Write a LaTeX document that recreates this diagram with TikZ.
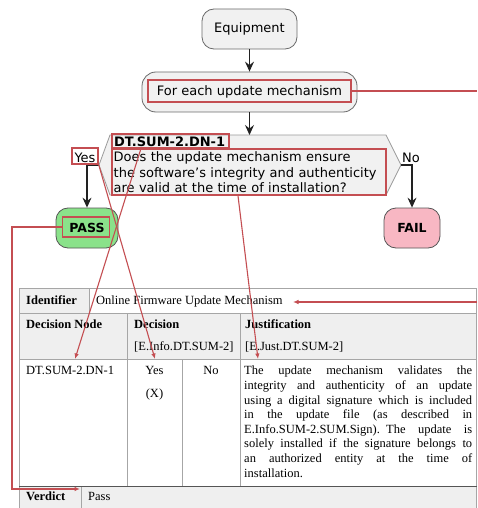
\documentclass[tikz,border=0pt]{standalone}
\usepackage{fontspec}
\setmainfont{Liberation Serif}
\newfontfamily\dvsans{DejaVu Sans}
\usetikzlibrary{arrows.meta,calc}
\definecolor{boxfill}{HTML}{F1F1F1}
\definecolor{actline}{HTML}{6A6A6A}
\definecolor{hexline}{HTML}{9A9A9A}
\definecolor{flowc}{HTML}{222222}
\definecolor{annot}{RGB}{196,78,82}
\definecolor{passfill}{HTML}{8AE28A}
\definecolor{failfill}{HTML}{F8B7C3}
\definecolor{cellgrey}{HTML}{EFEFEF}
\definecolor{rulec}{HTML}{A6A6A6}
\definecolor{darkrule}{HTML}{555555}
\tikzset{
  activity/.style={draw=actline, fill=boxfill, line width=0.8pt, inner sep=0pt,
    font=\dvsans\fontsize{13}{15.5}\selectfont},
  hexa/.style={draw=hexline, fill=boxfill, line width=0.8pt},
  flow/.style={draw=flowc, line width=1.1pt, -{Stealth[length=10pt,width=9pt,inset=3.5pt]}},
  redbox/.style={draw=annot, line width=1.4pt, inner sep=0pt},
  redline/.style={draw=annot, line width=1.1pt},
  redarrow/.style={redline, -{Latex[length=5.5pt,width=4.5pt]}},
  dlabel/.style={font=\dvsans\fontsize{13}{15.5}\selectfont, inner sep=0pt},
  tcell/.style={font=\fontsize{12.5}{14.6}\selectfont, inner sep=0pt},
  thead/.style={inner sep=0pt, font=\fontsize{12.5}{14.6}\selectfont\bfseries},
  rulel/.style={draw=rulec, line width=0.8pt},
}
\newcommand{\jline}[1]{\noindent\hbox to 228pt{\spaceskip=0.25em plus 10em\relax #1}\par}
\begin{document}
\begin{tikzpicture}[x=1pt,y=-1pt]
\useasboundingbox[fill=white] (0,0) rectangle (477,508);

% ---------- table ----------
\fill[cellgrey] (19,288) rectangle (89,313);
\fill[cellgrey] (19,313) rectangle (477,359);
\fill[cellgrey] (19,486) rectangle (477,508);
\draw[rulel] (19,288) -- (476.5,288);
\draw[rulel] (19,313) -- (476.5,313);
\draw[rulel] (19,359) -- (476.5,359);
\draw[rulel] (19,288) -- (19,508);
\draw[rulel] (476.5,288) -- (476.5,508);
\draw[rulel] (89,288) -- (89,313);
\draw[rulel] (127,313) -- (127,486);
\draw[rulel] (182,359) -- (182,486);
\draw[rulel] (240,313) -- (240,486);
\draw[rulel] (81,486) -- (81,508);
\draw[draw=darkrule, line width=1pt] (19,486) -- (476.5,486);

\node[thead, anchor=base west] (idlab) at (26,304) {Identifier};
\node[tcell, anchor=base west] (idval) at (96,304) {Online Firmware Update Mechanism};
\node[thead, anchor=base west] (hdn) at (26,328) {Decision Node};
\node[thead, anchor=base west] (hdec) at (134,328) {Decision};
\node[tcell, anchor=base west] (hdecref) at (134,350.5) {[E.Info.DT.SUM-2]};
\node[thead, anchor=base west] (hjus) at (245,328) {Justification};
\node[tcell, anchor=base west] (hjusref) at (245,350.5) {[E.Just.DT.SUM-2]};
\node[tcell, anchor=base west] (cdn) at (26,374.5) {DT.SUM-2.DN-1};
\node[tcell, anchor=base] (cyes) at (154.5,374.5) {Yes};
\node[tcell, anchor=base] (cx) at (154.5,397) {(X)};
\node[tcell, anchor=base] (cno) at (211,374.5) {No};
\node[tcell, anchor=north west, text width=228pt] (cjus) at (244,366)
 {\jline{The update mechanism validates the}
  \jline{integrity and authenticity of an update}
  \jline{using a digital signature which is included}
  \jline{in the update file (as described in}
  \jline{E.Info.SUM-2.SUM.Sign). The update is}
  \jline{solely installed if the signature belongs to}
  \jline{an authorized entity at the time of}
  \noindent installation.};
\node[thead, anchor=base west] (verd) at (26,500.5) {Verdict};
\node[tcell, anchor=base west] (verdv) at (88,500.5) {Pass};

% ---------- activity diagram ----------
\node[activity, rounded corners=12pt, minimum width=95pt, minimum height=40pt] (equip) at (249.5,29) {Equipment};
\node[activity, rounded corners=14pt, minimum width=215pt, minimum height=40pt] (loop) at (249.5,92) {For each update mechanism};
\coordinate (hexT) at (249.5,135);
\coordinate (hexL) at (99,165);
\coordinate (hexR) at (401,165);
\draw[hexa] (110,135) -- (386,135) -- (hexR) -- (386,195) -- (110,195) -- (hexL) -- cycle;
\node[dlabel, font=\dvsans\fontsize{13}{15.5}\selectfont\bfseries, anchor=base west] (dnid) at (114,146.5) {DT.SUM-2.DN-1};
\node[dlabel, anchor=north west, text width=274pt, align=left] (quest) at (113.5,151.8)
 {Does the update mechanism ensure\\ the software’s integrity and authenticity\\ are valid at the time of installation?};
\node[dlabel, anchor=base] (yes) at (85,162) {Yes};
\node[dlabel, anchor=base] (no) at (411,162) {No};
\node[activity, draw=darkrule, fill=passfill, rounded corners=12pt, minimum width=62pt, minimum height=40pt,
      font=\dvsans\fontsize{12.5}{15}\selectfont\bfseries] (pass) at (87,228) {PASS};
\node[activity, draw=darkrule, fill=failfill, rounded corners=12pt, minimum width=56pt, minimum height=40pt,
      font=\dvsans\fontsize{12.5}{15}\selectfont\bfseries] (fail) at (412,228) {FAIL};

\draw[flow] (equip.south) -- (loop.north);
\draw[flow] (loop.south) -- (hexT);
\draw[flow] (hexL) -| (pass.north);
\draw[flow] (hexR) -| (fail.north);

% ---------- annotations ----------
\node[redbox, minimum width=203pt, minimum height=22pt] (rloop) at (249.5,91) {};
\node[redbox, minimum width=117pt, minimum height=14pt] (rdn) at (170.5,141) {};
\node[redbox, minimum width=274pt, minimum height=46pt] (rq) at (249,172) {};
\node[redbox, minimum width=26pt, minimum height=16pt] (ryes) at (85,156) {};
\node[redbox, minimum width=47pt, minimum height=20pt] (rpass) at (86,227) {};

\coordinate (offA) at (477,91);
\coordinate (offB) at (477,302);
\coordinate (tipid) at (293,302);
\coordinate (tipdn) at (75,359);
\coordinate (tipyes) at (155,359);
\coordinate (tipjus) at (258,359);
\coordinate (tipver) at (80,489);
\coordinate (bendP) at (12,227);

\draw[redline] (rloop.east) -- (offA);
\draw[redarrow] (offB) -- (tipid);
\draw[redarrow] ($(rdn.south west)!0.25!(rdn.south east)$) -- (tipdn);
\draw[redarrow] (ryes.south east) -- (tipyes);
\draw[redarrow] ($(rq.south west)!0.46!(rq.south east)$) -- (tipjus);
\draw[redarrow] (rpass.west) -- (bendP) |- (tipver);
\end{tikzpicture}
\end{document}
